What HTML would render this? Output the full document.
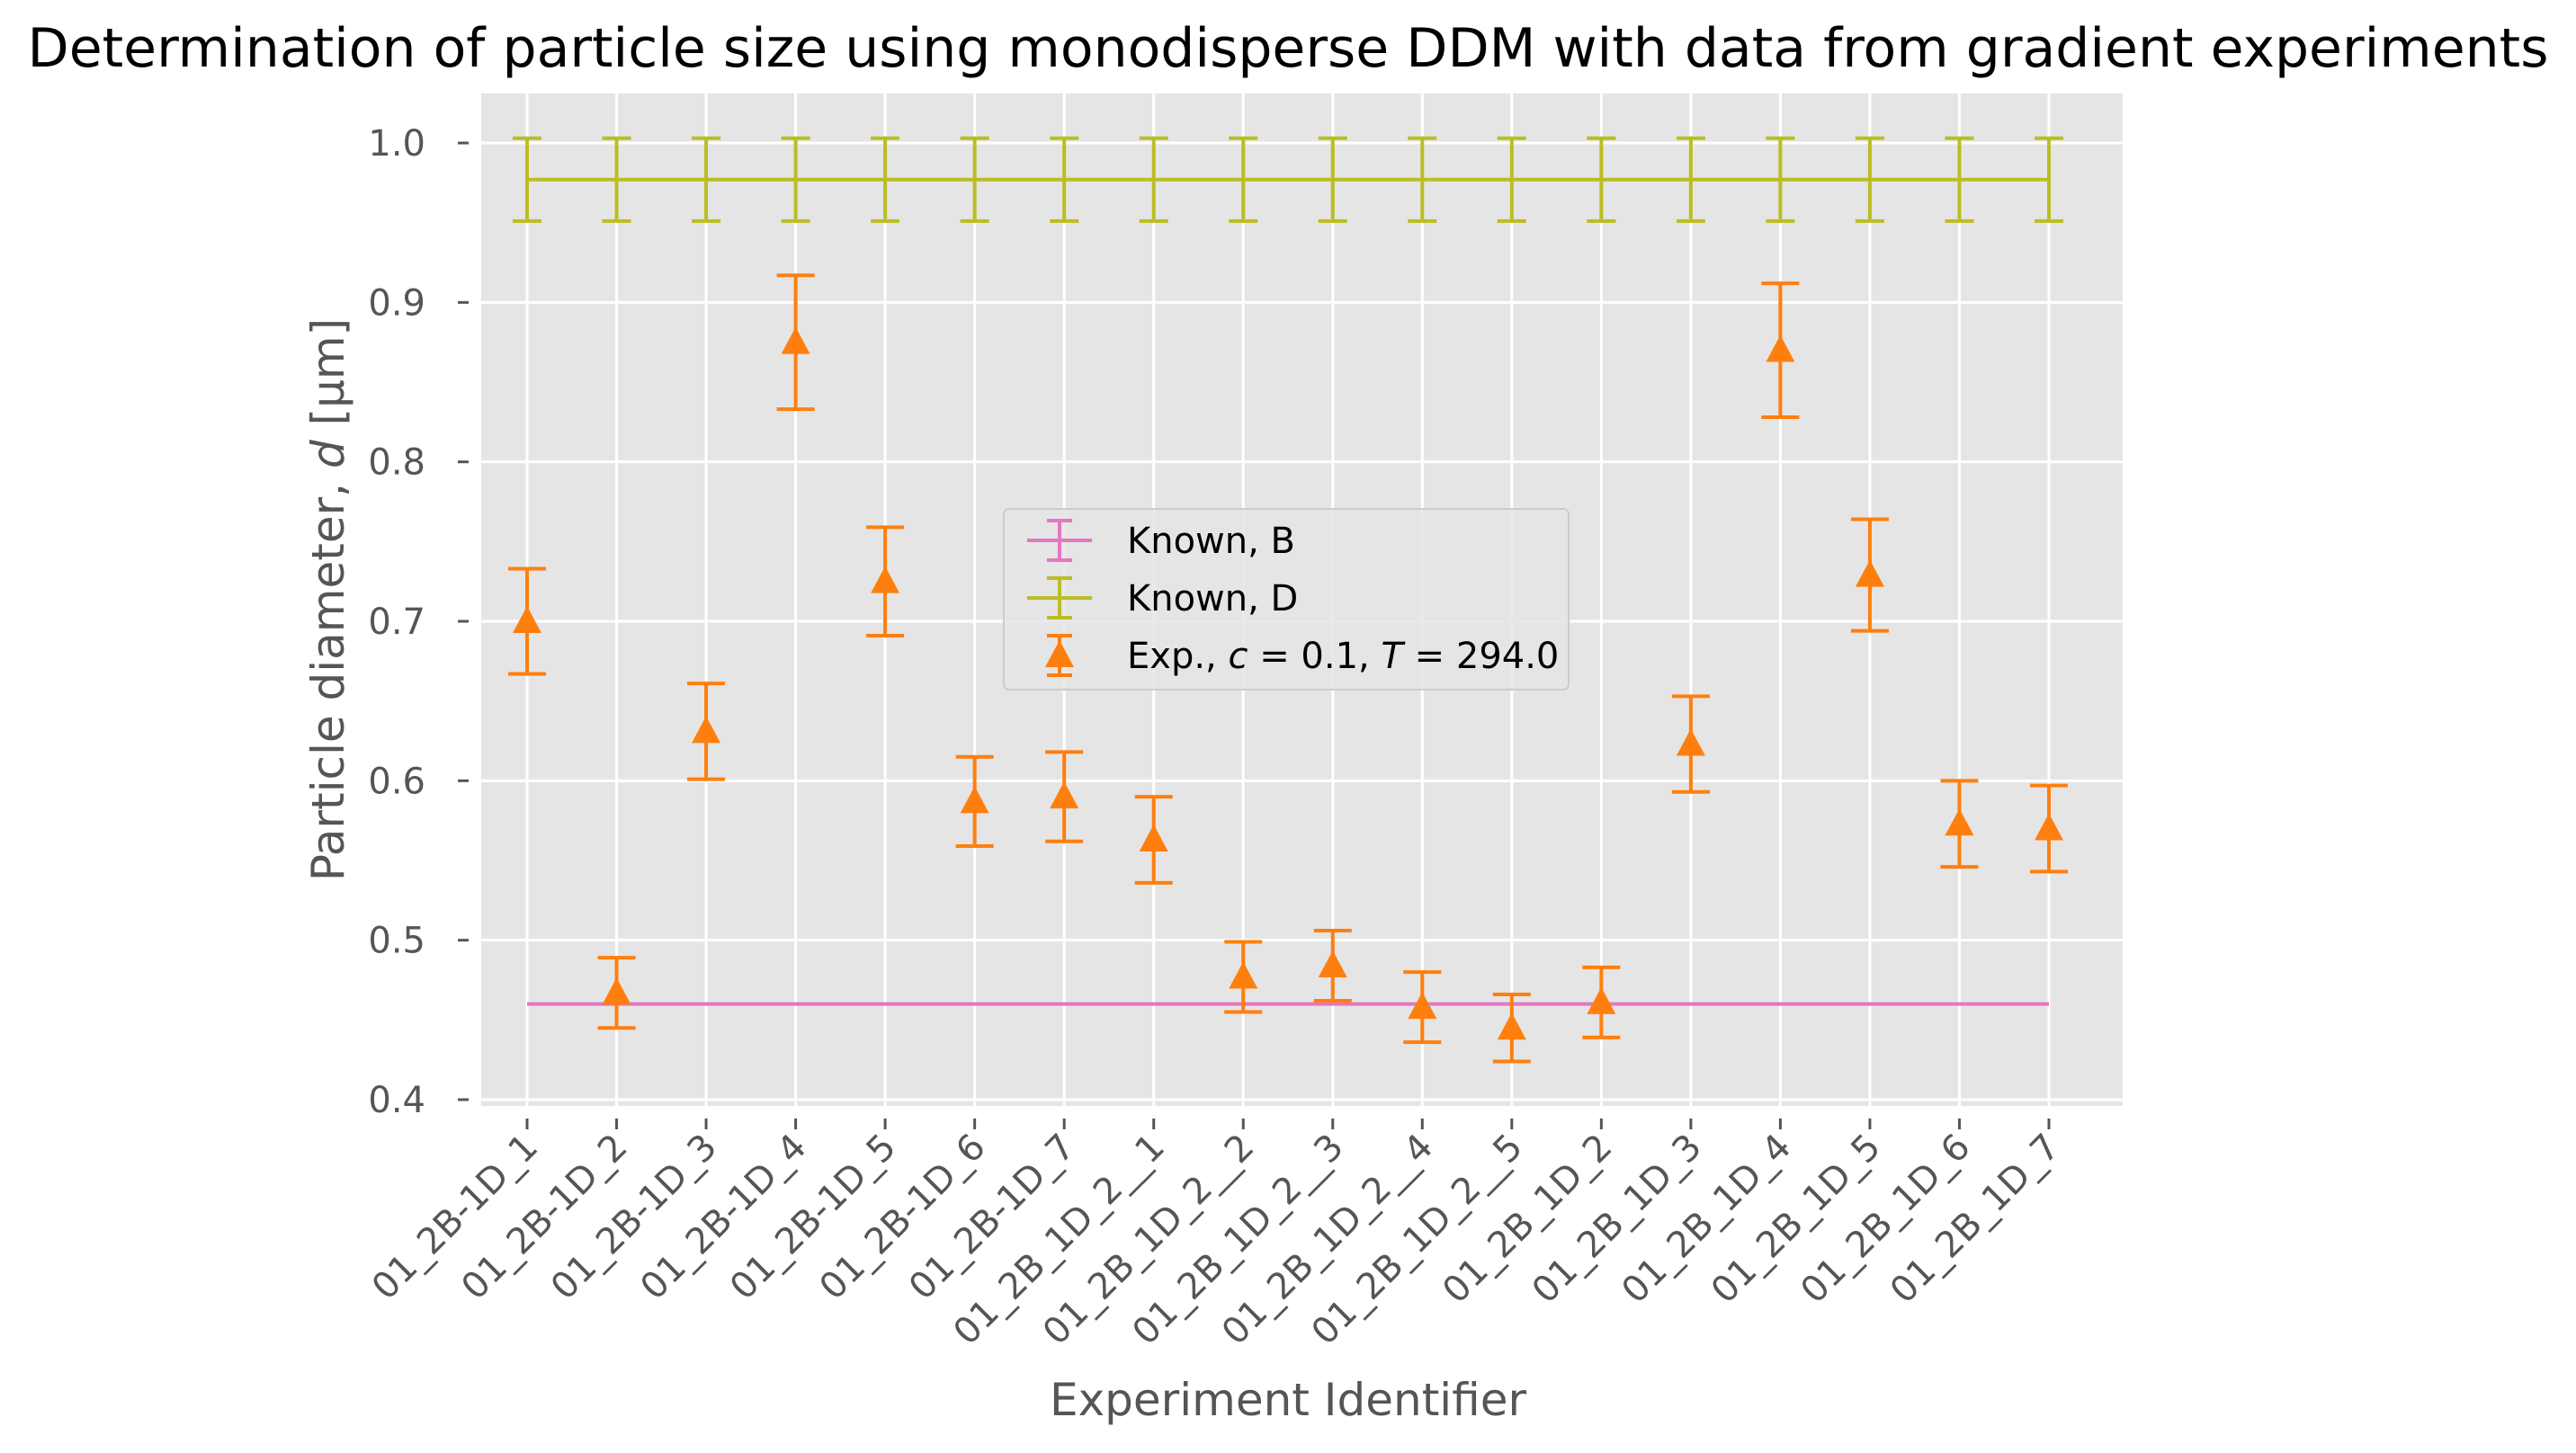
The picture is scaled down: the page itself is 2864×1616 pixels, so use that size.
<!DOCTYPE html>
<html><head><meta charset="utf-8"><style>body{margin:0;background:#fff}svg{display:block;font-family:"DejaVu Sans","Liberation Sans",sans-serif}</style></head>
<body>
<svg id="c" width="2864" height="1616"></svg>
<script>
const categories=["01_2B-1D_1","01_2B-1D_2","01_2B-1D_3","01_2B-1D_4","01_2B-1D_5","01_2B-1D_6","01_2B-1D_7","01_2B_1D_2__1","01_2B_1D_2__2","01_2B_1D_2__3","01_2B_1D_2__4","01_2B_1D_2__5","01_2B_1D_2","01_2B_1D_3","01_2B_1D_4","01_2B_1D_5","01_2B_1D_6","01_2B_1D_7"];
const expValues=[0.700,0.467,0.631,0.875,0.725,0.587,0.590,0.563,0.477,0.484,0.458,0.445,0.461,0.623,0.870,0.729,0.573,0.570];
const expErrors=[0.033,0.022,0.030,0.042,0.034,0.028,0.028,0.027,0.022,0.022,0.022,0.021,0.022,0.030,0.042,0.035,0.027,0.027];
const knownB=0.460;
const knownD=0.977;
const knownDErr=0.026;
const yTicks=[0.4,0.5,0.6,0.7,0.8,0.9,1.0];
const NS="http://www.w3.org/2000/svg";
const svg=document.getElementById('c');
const L=535,R=2360,T=104,B=1230;
const y=v=>1223-(v-0.4)*1773.3;
const x=i=>586+i*(2278-586)/(categories.length-1);
function el(t,a,p){const e=document.createElementNS(NS,t);for(const k in a)e.setAttribute(k,a[k]);(p||svg).appendChild(e);return e;}
let bg=el('rect',{x:L,y:T,width:R-L,height:B-T,fill:'#e5e5e5'});


yTicks.forEach(v=>{
 let g=el('line',{x1:L,x2:R,y1:y(v),y2:y(v),stroke:'#fff','stroke-width':3});
 
 
 el('line',{x1:L-26,x2:L-14,y1:y(v),y2:y(v),stroke:'#555','stroke-width':3});
 let t=el('text',{x:L-62,y:y(v)+14,'text-anchor':'end','font-size':40,fill:'#555'});
 t.textContent=v.toFixed(1);
 
 
});
categories.forEach((c,i)=>{
 let g=el('line',{x1:x(i),x2:x(i),y1:T,y2:B,stroke:'#fff','stroke-width':3});
 
 
 el('line',{x1:x(i),x2:x(i),y1:B+14,y2:B+26,stroke:'#555','stroke-width':3});
 let t=el('text',{x:x(i)+14,y:B+48,'text-anchor':'end','font-size':40,fill:'#555',transform:`rotate(-45 ${x(i)+14} ${B+48})`});
 t.textContent=c;
 
 
});
let lb=el('line',{x1:x(0),x2:x(categories.length-1),y1:y(knownB),y2:y(knownB),stroke:'#e377c2','stroke-width':4});


let ld=el('line',{x1:x(0),x2:x(categories.length-1),y1:y(knownD),y2:y(knownD),stroke:'#bcbd22','stroke-width':4});


categories.forEach((c,i)=>{
 const g=el('g',{stroke:'#bcbd22','stroke-width':4});
 
 
 el('line',{x1:x(i),x2:x(i),y1:y(knownD+knownDErr),y2:y(knownD-knownDErr)},g);
 el('line',{x1:x(i)-16,x2:x(i)+16,y1:y(knownD+knownDErr),y2:y(knownD+knownDErr)},g);
 el('line',{x1:x(i)-16,x2:x(i)+16,y1:y(knownD-knownDErr),y2:y(knownD-knownDErr)},g);
});
expValues.forEach((v,i)=>{
 const e=expErrors[i];
 const g=el('g',{stroke:'#ff7f0e','stroke-width':4,fill:'#ff7f0e'});
 
 
 el('line',{x1:x(i),x2:x(i),y1:y(v+e),y2:y(v-e)},g);
 el('line',{x1:x(i)-21,x2:x(i)+21,y1:y(v+e),y2:y(v+e)},g);
 el('line',{x1:x(i)-21,x2:x(i)+21,y1:y(v-e),y2:y(v-e)},g);
 const cy=y(v);
 el('polygon',{points:`${x(i)},${cy-17} ${x(i)-16},${cy+13} ${x(i)+16},${cy+13}`,stroke:'none'},g);
});
const lg=el('g',{});


el('rect',{x:1116,y:566,width:628,height:201,rx:6,fill:'#e5e5e5',stroke:'#ccc','stroke-width':2,'fill-opacity':0.85},lg);
const items=[["Known, B","#e377c2","bar"],["Known, D","#bcbd22","bar"],["Exp., ","#ff7f0e","tri"]];
items.forEach((it,k)=>{
 const cy=601+k*64, cx=1178;
 const g=el('g',{stroke:it[1],'stroke-width':4,fill:it[1]},lg);
 
 
 el('line',{x1:cx,x2:cx,y1:cy-22,y2:cy+22},g);
 el('line',{x1:cx-14,x2:cx+14,y1:cy-22,y2:cy-22},g);
 el('line',{x1:cx-14,x2:cx+14,y1:cy+22,y2:cy+22},g);
 if(k<2) el('line',{x1:cx-36,x2:cx+36,y1:cy,y2:cy},g);
 else el('polygon',{points:`${cx},${cy-17} ${cx-16},${cy+13} ${cx+16},${cy+13}`,stroke:'none'},g);
 const t=el('text',{x:1253,y:cy+14,'font-size':40,fill:'#000',stroke:'none'},lg);
 if(k<2) t.textContent=it[0];
 else t.innerHTML='Exp., <tspan font-style="italic">c</tspan> = 0.1, <tspan font-style="italic">T</tspan> = 294.0';
});
let tt=el('text',{x:1432,y:74,'text-anchor':'middle','font-size':60,fill:'#000'});
tt.textContent='Determination of particle size using monodisperse DDM with data from gradient experiments';


let xl=el('text',{x:1432,y:1574,'text-anchor':'middle','font-size':50,fill:'#555'});
xl.textContent='Experiment Identifier';


let yl=el('text',{x:0,y:0,'text-anchor':'middle','font-size':50,fill:'#555',transform:'translate(382 667) rotate(-90)'});
yl.innerHTML='Particle diameter, <tspan font-style="italic">d</tspan> [μm]';


</script>
</body></html>
